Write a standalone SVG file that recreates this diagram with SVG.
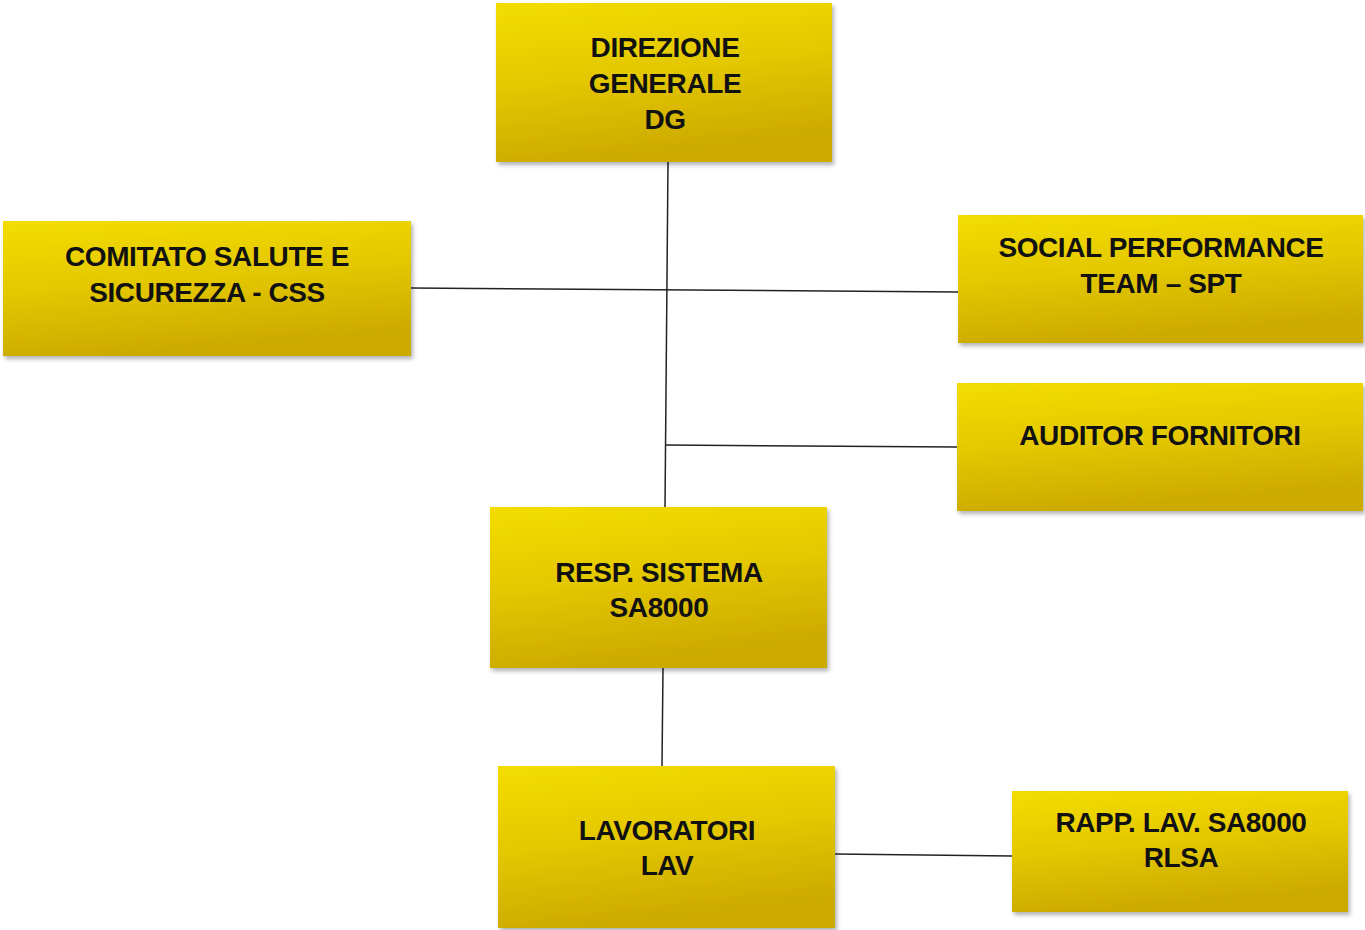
<svg xmlns="http://www.w3.org/2000/svg" width="1365" height="930" viewBox="0 0 1365 930">
<defs>
<linearGradient id="gold" x1="0" y1="0" x2="0.25" y2="1">
<stop offset="0" stop-color="#F3DD00"/>
<stop offset="0.5" stop-color="#E4C800"/>
<stop offset="1" stop-color="#CCAA00"/>
</linearGradient>
<filter id="sh" x="-5%" y="-5%" width="112%" height="115%">
<feDropShadow dx="2" dy="3" stdDeviation="2" flood-color="#000" flood-opacity="0.3"/>
</filter>
</defs>
<style>
.box{fill:url(#gold);filter:url(#sh)}
.t{font-family:"Liberation Sans",Arial,sans-serif;font-weight:bold;font-size:28px;letter-spacing:-0.4px;fill:#111;text-anchor:middle}
.c{stroke:#222;stroke-width:1.5;fill:none}
</style>
<rect width="1365" height="930" fill="#ffffff"/>
<g id="connectors">
<line class="c" x1="668" y1="162" x2="665" y2="507"/>
<line class="c" x1="411" y1="288" x2="958" y2="292"/>
<line class="c" x1="665" y1="445" x2="957" y2="447"/>
<line class="c" x1="663" y1="668" x2="662" y2="766"/>
<line class="c" x1="835" y1="854" x2="1012" y2="856"/>
</g>
<g id="dg">
<rect class="box" x="496" y="3" width="336" height="159"/>
<text class="t" x="665" y="57">DIREZIONE</text>
<text class="t" x="665" y="93">GENERALE</text>
<text class="t" x="665" y="129">DG</text>
</g>
<g id="css">
<rect class="box" x="3" y="221" width="408" height="135"/>
<text class="t" x="207" y="266">COMITATO SALUTE E</text>
<text class="t" x="207" y="302">SICUREZZA - CSS</text>
</g>
<g id="spt">
<rect class="box" x="958" y="215" width="405" height="128"/>
<text class="t" x="1161" y="257">SOCIAL PERFORMANCE</text>
<text class="t" x="1161" y="293">TEAM – SPT</text>
</g>
<g id="auditor">
<rect class="box" x="957" y="383" width="406" height="128"/>
<text class="t" x="1160" y="445">AUDITOR FORNITORI</text>
</g>
<g id="resp">
<rect class="box" x="490" y="507" width="337" height="161"/>
<text class="t" x="659" y="582">RESP. SISTEMA</text>
<text class="t" x="659" y="617">SA8000</text>
</g>
<g id="lav">
<rect class="box" x="498" y="766" width="337" height="162"/>
<text class="t" x="667" y="840">LAVORATORI</text>
<text class="t" x="667" y="875">LAV</text>
</g>
<g id="rlsa">
<rect class="box" x="1012" y="791" width="336" height="121"/>
<text class="t" x="1181" y="832">RAPP. LAV. SA8000</text>
<text class="t" x="1181" y="867">RLSA</text>
</g>
</svg>
